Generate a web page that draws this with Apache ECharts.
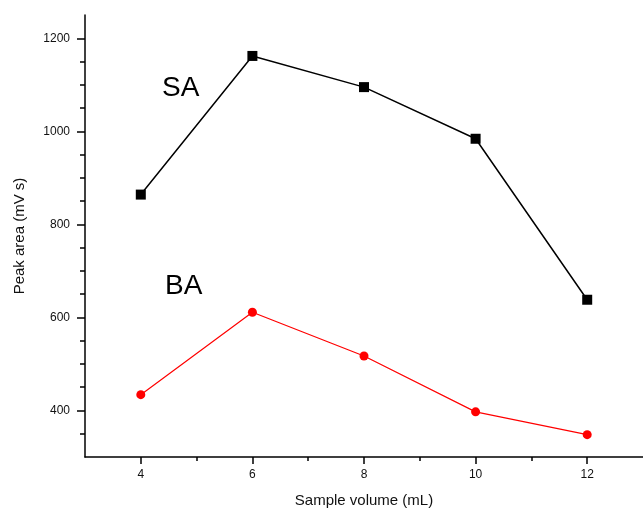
<!DOCTYPE html>
<html>
<head>
<meta charset="utf-8">
<script src="https://cdn.jsdelivr.net/npm/echarts@6/dist/echarts.min.js"></script>
<style>
  html, body { margin: 0; padding: 0; background: #fff; }
  #chart { width: 643px; height: 516px; }
</style>
</head>
<body>
<div id="chart"></div>
<script>
// sample volume (mL)
const volumes = [4, 6, 8, 10, 12];
// peak area (mV s)
const saValues = [864, 1162, 1095, 984, 638];
const baValues = [434, 611, 517, 397, 348];

// ticks
const xMajorTicks = [4, 6, 8, 10, 12];
const xMinorTicks = [5, 7, 9, 11];
const yMajorTicks = [400, 600, 800, 1000, 1200];
const yMinorTicks = [350, 450, 500, 550, 650, 700, 750, 850, 900, 950, 1050, 1100, 1150];

const font = 'Liberation Sans, Arial, sans-serif';

let chart = echarts.init(document.getElementById('chart'));

let option = {
    animation: false,
    backgroundColor: '#fff',
    grid: {
        left: 85,
        top: 15,
        width: 562,
        height: 442
    },
    xAxis: [
        {
            type: 'value',
            min: 3,
            max: 13,
            name: 'Sample volume (mL)',
            nameLocation: 'middle',
            nameGap: 36,
            nameTextStyle: { fontFamily: font, fontSize: 15, color: '#111' },
            axisLine: { lineStyle: { color: '#000', width: 1.5 } },
            axisTick: { customValues: xMajorTicks, length: 7, lineStyle: { color: '#000', width: 1.5 } },
            axisLabel: { customValues: xMajorTicks, margin: 12, fontFamily: font, fontSize: 12, color: '#111', formatter: v => String(v) },
            splitLine: { show: false }
        },
        {
            type: 'value',
            min: 3,
            max: 13,
            position: 'bottom',
            axisLine: { show: false },
            axisTick: { customValues: xMinorTicks, length: 4, lineStyle: { color: '#000', width: 1.5 } },
            axisLabel: { show: false },
            splitLine: { show: false }
        }
    ],
    yAxis: [
        {
            type: 'value',
            min: 300,
            max: 1250,
            name: 'Peak area (mV s)',
            nameLocation: 'middle',
            nameGap: 58,
            nameTextStyle: { fontFamily: font, fontSize: 15, color: '#111' },
            axisLine: { show: true, lineStyle: { color: '#000', width: 1.5 } },
            axisTick: { show: true, customValues: yMajorTicks, length: 8, lineStyle: { color: '#000', width: 1.5 } },
            axisLabel: { customValues: yMajorTicks, margin: 15, fontFamily: font, fontSize: 12, color: '#111', formatter: v => String(v) },
            splitLine: { show: false }
        },
        {
            type: 'value',
            min: 300,
            max: 1250,
            position: 'left',
            axisLine: { show: false },
            axisTick: { show: true, customValues: yMinorTicks, length: 5, lineStyle: { color: '#000', width: 1.5 } },
            axisLabel: { show: false },
            splitLine: { show: false }
        }
    ],
    graphic: [
        {
            type: 'text',
            left: 162,
            top: 74,
            style: { text: 'SA', font: '28px ' + font, fill: '#000' }
        },
        {
            type: 'text',
            left: 165,
            top: 272,
            style: { text: 'BA', font: '28px ' + font, fill: '#000' }
        }
    ],
    series: [
        {
            name: 'SA',
            type: 'line',
            data: volumes.map((v, i) => [v, saValues[i]]),
            symbol: 'rect',
            symbolSize: 10,
            itemStyle: { color: '#000' },
            lineStyle: { color: '#000', width: 1.5 }
        },
        {
            name: 'BA',
            type: 'line',
            data: volumes.map((v, i) => [v, baValues[i]]),
            symbol: 'circle',
            symbolSize: 9,
            itemStyle: { color: '#f00' },
            lineStyle: { color: '#f00', width: 1.2 }
        }
    ]
};
chart.setOption(option);
window.addEventListener('resize', chart.resize);
</script>
</body>
</html>
